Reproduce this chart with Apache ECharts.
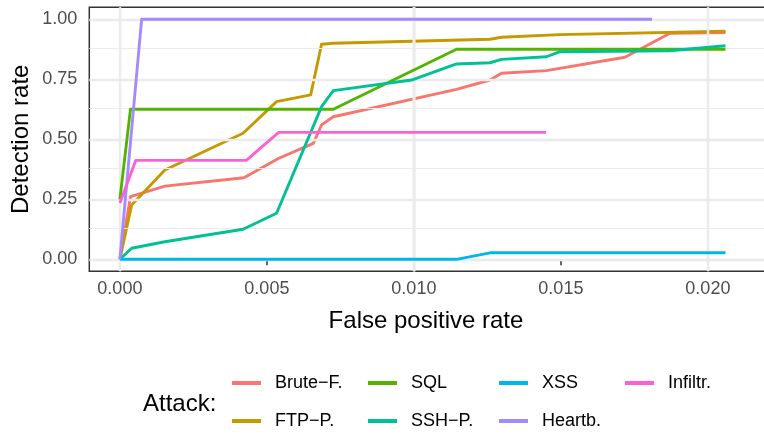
<!DOCTYPE html>
<html>
<head>
<meta charset="utf-8">
<script src="https://cdn.jsdelivr.net/npm/echarts@6/dist/echarts.min.js"></script>
<style>html,body{margin:0;padding:0;background:#fff}#c{width:764px;height:435px}</style>
</head>
<body>
<div id="c"></div>
<script>
// ---- data ----
const attacks = ["Brute\u2212F.", "FTP\u2212P.", "SQL", "SSH\u2212P.", "XSS", "Heartb.", "Infiltr."];
const colors = ["#F8766D", "#C49A00", "#53B400", "#00C094", "#00B6EB", "#A58AFF", "#FB61D7"];

const fprBruteF = [0, 0.00036, 0.00153, 0.00422, 0.00539, 0.00658, 0.00686, 0.00726, 0.01145, 0.01259, 0.01298, 0.01451, 0.01718, 0.01871, 0.0206];
const tprBruteF = [0, 0.261, 0.305, 0.34, 0.42, 0.483, 0.56, 0.594, 0.708, 0.747, 0.775, 0.786, 0.842, 0.942, 0.945];

const fprFTPP = [0, 0.0004, 0.00153, 0.00419, 0.00533, 0.00649, 0.00686, 0.00726, 0.01259, 0.01298, 0.01497, 0.0206];
const tprFTPP = [0, 0.226, 0.372, 0.525, 0.657, 0.685, 0.896, 0.9, 0.917, 0.925, 0.936, 0.95];

const fprSQL = [0, 0.00036, 0.00726, 0.01145, 0.0206];
const tprSQL = [0.25, 0.625, 0.625, 0.875, 0.875];

const fprSSHP = [0, 0.0004, 0.00153, 0.00419, 0.00533, 0.00686, 0.00726, 0.00992, 0.01145, 0.01259, 0.01298, 0.01451, 0.01497, 0.01871, 0.0206];
const tprSSHP = [0, 0.046, 0.073, 0.125, 0.192, 0.636, 0.703, 0.747, 0.814, 0.819, 0.833, 0.844, 0.865, 0.869, 0.89];

const fprXSS = [0, 0.01145, 0.01259, 0.0206];
const tprXSS = [0, 0, 0.027, 0.027];

const fprHeartb = [0, 0.00074, 0.0181];
const tprHeartb = [0, 1, 1];

const fprInfiltr = [0, 0.00054, 0.0043, 0.0054, 0.0145];
const tprInfiltr = [0.235, 0.412, 0.412, 0.529, 0.529];

const xTicks = [0, 0.005, 0.01, 0.015, 0.02];
const xMinor = [0.0025, 0.0075, 0.0125, 0.0175];
const yTicks = [0, 0.25, 0.5, 0.75, 1];
const yMinor = [0.125, 0.375, 0.625, 0.875];

const xTitle = "False positive rate";
const yTitle = "Detection rate";
const legendTitle = "Attack:";

// ---- build ----
const fprs = [fprBruteF, fprFTPP, fprSQL, fprSSHP, fprXSS, fprHeartb, fprInfiltr];
const tprs = [tprBruteF, tprFTPP, tprSQL, tprSSHP, tprXSS, tprHeartb, tprInfiltr];

const FONT = "Liberation Sans, Arial, Helvetica, sans-serif";

const gridLineData = [];
xTicks.forEach(v => gridLineData.push({xAxis: v, lineStyle: {width: 2.4}}));
xMinor.forEach(v => gridLineData.push({xAxis: v, lineStyle: {width: 1.2}}));
yTicks.forEach(v => gridLineData.push({yAxis: v, lineStyle: {width: 2.4}}));
yMinor.forEach(v => gridLineData.push({yAxis: v, lineStyle: {width: 1.2}}));

const series = [{
  type: 'line', name: '__grid', data: [[0, 0]], showSymbol: false, symbol: 'none',
  lineStyle: {opacity: 0}, z: 1, silent: true, animation: false,
  markLine: {
    silent: true, symbol: ['none', 'none'], animation: false,
    label: {show: false},
    lineStyle: {color: '#EBEBEB', type: 'solid'},
    data: gridLineData
  }
}];
attacks.forEach((name, i) => {
  series.push({
    type: 'line', name: name,
    data: fprs[i].map((x, j) => [x, tprs[i][j]]),
    showSymbol: false, symbol: 'none', z: 3 + i,
    lineStyle: {color: colors[i], width: 2.9, join: 'round', cap: 'butt'},
    itemStyle: {color: colors[i]},
    animation: false, silent: true
  });
});

// legend: column-major, 2 rows
const colLefts = [232, 368, 499, 625];
const rowYs = [383, 421];
const legends = attacks.map((name, i) => ({
  orient: 'horizontal',
  left: colLefts[Math.floor(i / 2)],
  top: rowYs[i % 2] - 10,
  data: [{name: name, icon: 'rect'}],
  itemWidth: 29, itemHeight: 4,
  selectedMode: false, padding: 0,
  textStyle: {fontFamily: FONT, fontSize: 18, color: '#000', lineHeight: 20, padding: [0, 0, 0, 9]}
}));

const chart = echarts.init(document.getElementById('c'), null, {renderer: 'canvas'});
chart.setOption({
  backgroundColor: '#fff',
  animation: false,
  grid: {left: 89.3, top: 7.3, width: 681.7, height: 264, containLabel: false, outerBoundsMode: 'none',
         show: true, borderColor: '#333333', borderWidth: 1.5, backgroundColor: '#fff'},
  xAxis: {
    type: 'value', min: -0.00104, max: 0.022147,
    axisLine: {show: false},
    splitLine: {show: false},
    axisTick: {show: true, length: 6, customValues: xTicks, lineStyle: {color: '#333333', width: 1.5}},
    axisLabel: {customValues: xTicks, formatter: v => v.toFixed(3), fontFamily: FONT, fontSize: 18, color: '#4D4D4D', margin: 9}
  },
  yAxis: {
    type: 'value', min: -0.05, max: 1.05,
    axisLine: {show: false},
    splitLine: {show: false},
    axisTick: {show: true, length: 6, customValues: yTicks, lineStyle: {color: '#333333', width: 1.5}},
    axisLabel: {customValues: yTicks, formatter: v => v.toFixed(2), fontFamily: FONT, fontSize: 18, color: '#4D4D4D', margin: 12}
  },
  legend: legends,
  graphic: [
    {type: 'text', style: {text: xTitle, fontFamily: FONT, fontSize: 24, fill: '#000', textAlign: 'center', textVerticalAlign: 'middle'}, x: 426, y: 321},
    {type: 'text', style: {text: yTitle, fontFamily: FONT, fontSize: 24, fill: '#000', textAlign: 'center', textVerticalAlign: 'middle'}, x: 21, y: 139.3, rotation: Math.PI / 2},
    {type: 'text', style: {text: legendTitle, fontFamily: FONT, fontSize: 24, fill: '#000', textAlign: 'left', textVerticalAlign: 'middle'}, x: 143, y: 404}
  ],
  series: series
});
</script>
</body>
</html>
